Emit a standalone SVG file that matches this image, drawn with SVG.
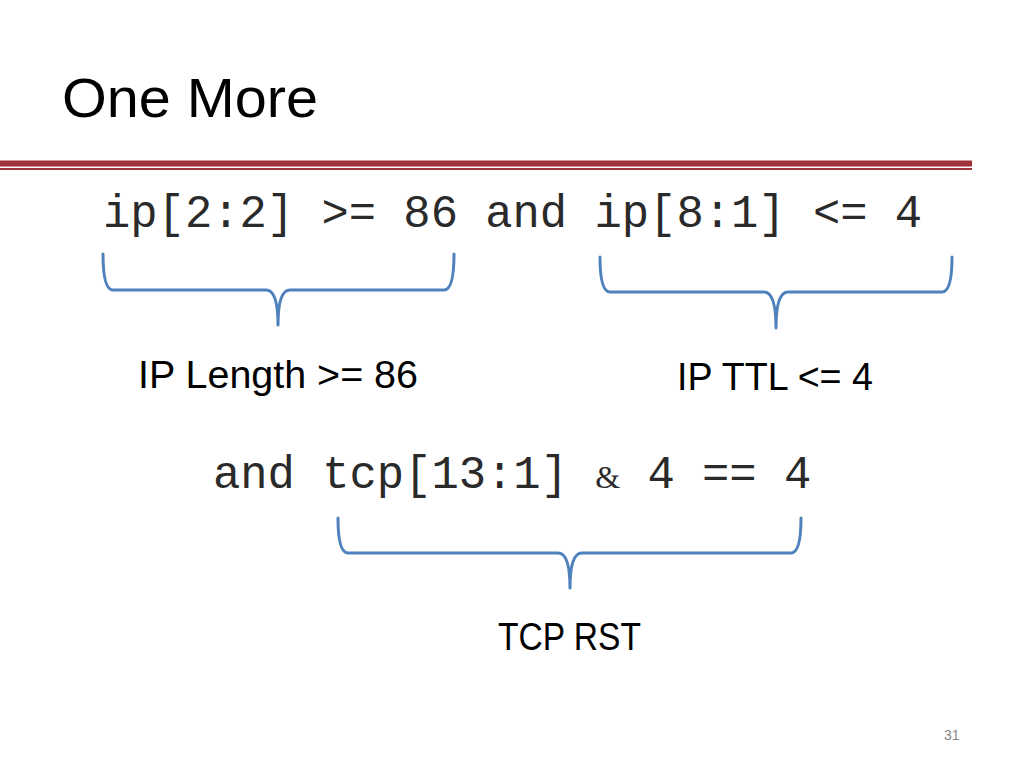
<svg xmlns="http://www.w3.org/2000/svg" width="1024" height="768" viewBox="0 0 1024 768">
<style>
.code{font-family:"Liberation Mono","Courier New",monospace;font-size:45.5px;fill:#2a2a2a}
.lbl{font-family:"Liberation Sans",Arial,sans-serif;font-size:39px;fill:#000}
.brace{fill:none;stroke:#4F81BD;stroke-width:3;stroke-linecap:round;stroke-linejoin:round}
</style>
<rect width="1024" height="768" fill="#fff"/>
<g id="title">
<text x="62" y="117" font-family="Liberation Sans,Arial,sans-serif" font-size="55" fill="#000" textLength="256" lengthAdjust="spacingAndGlyphs">One More</text>
</g>
<g id="rule">
<rect x="0" y="160.5" width="972" height="6" fill="#A0333A"/>
<rect x="0" y="168" width="972" height="2" fill="#A0333A"/>
</g>
<g id="expr1">
<text class="code" x="103" y="227">ip[2:2] &gt;= 86 and ip[8:1] &lt;= 4</text>
</g>
<g id="expr2">
<text class="code" x="213" y="488">and tcp[13:1] <tspan font-family="Liberation Serif,serif" font-size="32">&amp;</tspan> 4 == 4</text>
</g>
<g id="connectors">
<path class="brace" d="M103 254 Q103 290 113 290 L266 290 Q278 290 278 325 Q278 290 290 290 L444 290 Q454 290 454 254"/>
<path class="brace" d="M600 257 Q600 292 610 292 L764 292 Q776 292 776 328 Q776 292 788 292 L942 292 Q952 292 952 257"/>
<path class="brace" d="M338 518 Q338 553 348 553 L558 553 Q570 553 570 588 Q570 553 582 553 L791 553 Q801 553 801 518"/>
</g>
<g id="label-length">
<text class="lbl" x="138" y="388" textLength="280" lengthAdjust="spacingAndGlyphs">IP Length &gt;= 86</text>
</g>
<g id="label-ttl">
<text class="lbl" x="677" y="390" textLength="196" lengthAdjust="spacingAndGlyphs">IP TTL &lt;= 4</text>
</g>
<g id="label-rst">
<text class="lbl" x="498" y="650" textLength="143" lengthAdjust="spacingAndGlyphs">TCP RST</text>
</g>
<g id="page">
<text x="944" y="740" font-family="Liberation Sans,Arial,sans-serif" font-size="14" fill="#888">31</text>
</g>
</svg>
